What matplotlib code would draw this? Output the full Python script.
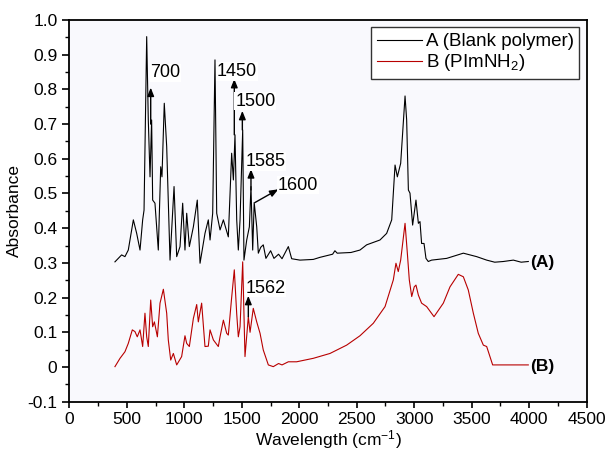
import matplotlib
matplotlib.use('Agg')
import matplotlib.pyplot as plt
from matplotlib.ticker import MultipleLocator, FuncFormatter

plt.rcParams['font.family'] = ['Liberation Sans', 'DejaVu Sans']
plt.rcParams['mathtext.fontset'] = 'custom'
plt.rcParams['mathtext.rm'] = 'Liberation Sans'
plt.rcParams['mathtext.it'] = 'Liberation Sans:italic'
plt.rcParams['mathtext.bf'] = 'Liberation Sans:bold'

# spectrum A (blank polymer)
wn_a = [397, 426, 455, 484, 513, 557, 586, 615, 638, 650, 673, 687, 702, 716, 725,
        745, 774, 795, 806, 826, 847, 876, 911, 934, 963, 986, 1006, 1021, 1044,
        1079, 1113, 1137, 1180, 1209, 1224, 1247, 1267, 1282, 1311, 1340, 1383,
        1412, 1427, 1441, 1456, 1470, 1485, 1508, 1519, 1543, 1566, 1580, 1595,
        1608, 1630, 1644, 1665, 1687, 1710, 1751, 1780, 1820, 1850, 1905, 1934,
        2006, 2122, 2180, 2290, 2310, 2330, 2450, 2528, 2586, 2702, 2760, 2804,
        2833, 2853, 2882, 2920, 2934, 2949, 2963, 2986, 3015, 3036, 3050, 3064,
        3085, 3102, 3122, 3151, 3282, 3427, 3543, 3630, 3700, 3775, 3862, 3930, 3992]
abs_a = [0.303, 0.313, 0.323, 0.318, 0.337, 0.424, 0.385, 0.337, 0.424, 0.452, 0.952,
         0.712, 0.548, 0.712, 0.481, 0.472, 0.337, 0.577, 0.548, 0.760, 0.635, 0.308,
         0.520, 0.318, 0.347, 0.472, 0.337, 0.443, 0.347, 0.404, 0.481, 0.299, 0.385,
         0.424, 0.366, 0.443, 0.885, 0.443, 0.395, 0.424, 0.375, 0.616, 0.539, 0.669,
         0.424, 0.337, 0.424, 0.683, 0.308, 0.366, 0.404, 0.520, 0.337, 0.474, 0.404,
         0.328, 0.345, 0.352, 0.313, 0.335, 0.313, 0.325, 0.312, 0.347, 0.312, 0.308,
         0.310, 0.316, 0.325, 0.335, 0.328, 0.330, 0.337, 0.352, 0.366, 0.385, 0.424,
         0.582, 0.548, 0.587, 0.781, 0.712, 0.510, 0.501, 0.409, 0.481, 0.414, 0.419,
         0.356, 0.356, 0.313, 0.304, 0.308, 0.313, 0.328, 0.318, 0.308, 0.302, 0.304,
         0.308, 0.302, 0.304]

# spectrum B (PImNH2)
wn_b = [397, 441, 484, 513, 548, 571, 591, 615, 638, 658, 673, 687, 708, 725, 740,
        754, 766, 789, 818, 847, 861, 882, 905, 934, 977, 1006, 1021, 1044, 1079,
        1108, 1122, 1151, 1180, 1209, 1224, 1253, 1296, 1311, 1340, 1369, 1383,
        1410, 1435, 1456, 1470, 1485, 1508, 1528, 1557, 1572, 1600, 1630, 1659,
        1687, 1731, 1774, 1820, 1850, 1905, 1977, 2122, 2267, 2412, 2528, 2644,
        2746, 2818, 2841, 2861, 2882, 2920, 2940, 2957, 2978, 3000, 3015, 3036,
        3064, 3108, 3172, 3253, 3311, 3383, 3427, 3470, 3514, 3557, 3601, 3630,
        3682, 3775, 3992]
abs_b = [0.001, 0.025, 0.044, 0.068, 0.107, 0.102, 0.087, 0.107, 0.059, 0.155, 0.087,
         0.059, 0.193, 0.116, 0.130, 0.107, 0.087, 0.184, 0.224, 0.155, 0.078, 0.020,
         0.039, 0.006, 0.030, 0.090, 0.068, 0.059, 0.140, 0.180, 0.130, 0.184, 0.059,
         0.060, 0.107, 0.078, 0.059, 0.087, 0.135, 0.097, 0.092, 0.193, 0.280, 0.153,
         0.087, 0.116, 0.303, 0.030, 0.145, 0.100, 0.169, 0.130, 0.097, 0.049, 0.006,
         0.001, 0.010, 0.006, 0.015, 0.015, 0.025, 0.039, 0.063, 0.090, 0.126, 0.174,
         0.251, 0.299, 0.275, 0.308, 0.414, 0.328, 0.251, 0.203, 0.231, 0.236, 0.207,
         0.184, 0.174, 0.145, 0.184, 0.231, 0.267, 0.260, 0.222, 0.155, 0.097, 0.063,
         0.059, 0.006, 0.006, 0.006]

# peak labels: text, arrow base, arrow tip, text position
peak_labels = ['700', '1450', '1500', '1585', '1600', '1562']
arrow_base = [(708, 0.70), (1435, 0.669), (1505, 0.683), (1580, 0.51), (1615, 0.474), (1557, 0.145)]
arrow_tip = [(708, 0.805), (1435, 0.83), (1505, 0.738), (1580, 0.57), (1818, 0.512), (1557, 0.205)]
text_pos = [(705, 0.848), (1283, 0.852), (1443, 0.766), (1534, 0.592), (1816, 0.524), (1530, 0.227)]

fig = plt.figure(figsize=(6.09, 4.54), dpi=100)
ax = fig.add_axes([0.1138, 0.1152, 0.8496, 0.8408])
ax.set_facecolor('#f9f9fd')

ax.plot(wn_a, abs_a, color='black', lw=0.8, label='A (Blank polymer)')
ax.plot(wn_b, abs_b, color='#b80000', lw=0.8, label='B (PImNH$\\mathregular{_2}$)')

for lab, b, t, p in zip(peak_labels, arrow_base, arrow_tip, text_pos):
    ax.annotate('', xy=t, xytext=b,
                arrowprops=dict(arrowstyle='-|>,head_length=0.5,head_width=0.2',
                                color='black', lw=1, shrinkA=0, shrinkB=0))
    ax.text(p[0], p[1], lab, fontsize=13, va='center', ha='left',
            bbox=dict(facecolor='white', edgecolor='none', pad=0.5))

ax.text(4010, 0.300, '(A)', fontsize=12.5, fontweight='bold', va='center')
ax.text(4010, 0.000, '(B)', fontsize=12.5, fontweight='bold', va='center')

ax.set_xlim(0, 4500)
ax.set_ylim(-0.1, 1.0)
ax.xaxis.set_major_locator(MultipleLocator(500))
ax.xaxis.set_minor_locator(MultipleLocator(250))
ax.yaxis.set_major_locator(MultipleLocator(0.1))
ax.yaxis.set_minor_locator(MultipleLocator(0.05))
ax.yaxis.set_major_formatter(FuncFormatter(lambda v, p: '0' if abs(v) < 1e-9 else ('%.1f' % v).replace('\u2212', '-')))
ax.tick_params(which='major', direction='out', length=5, width=1.2, labelsize=12.5)
ax.tick_params(which='minor', direction='out', length=3, width=1.0)
ax.tick_params(axis='x', which='major', length=4)
for s in ax.spines.values():
    s.set_linewidth(1.3)

ax.set_xlabel('Wavelength (cm$^{-1}$)', fontsize=12.5, labelpad=1)
ax.set_ylabel('Absorbance', fontsize=12.5, labelpad=4)

leg = ax.legend(loc='upper right', fontsize=13.5, frameon=True, fancybox=False,
                handlelength=2.4, handletextpad=0.2, borderpad=0.3, labelspacing=0.1,
                borderaxespad=0.4)
leg.get_frame().set_edgecolor('#333333')
leg.get_frame().set_linewidth(1.0)
leg.get_frame().set_facecolor('white')
leg.get_frame().set_alpha(1)

fig.savefig('out.png', dpi=100)
